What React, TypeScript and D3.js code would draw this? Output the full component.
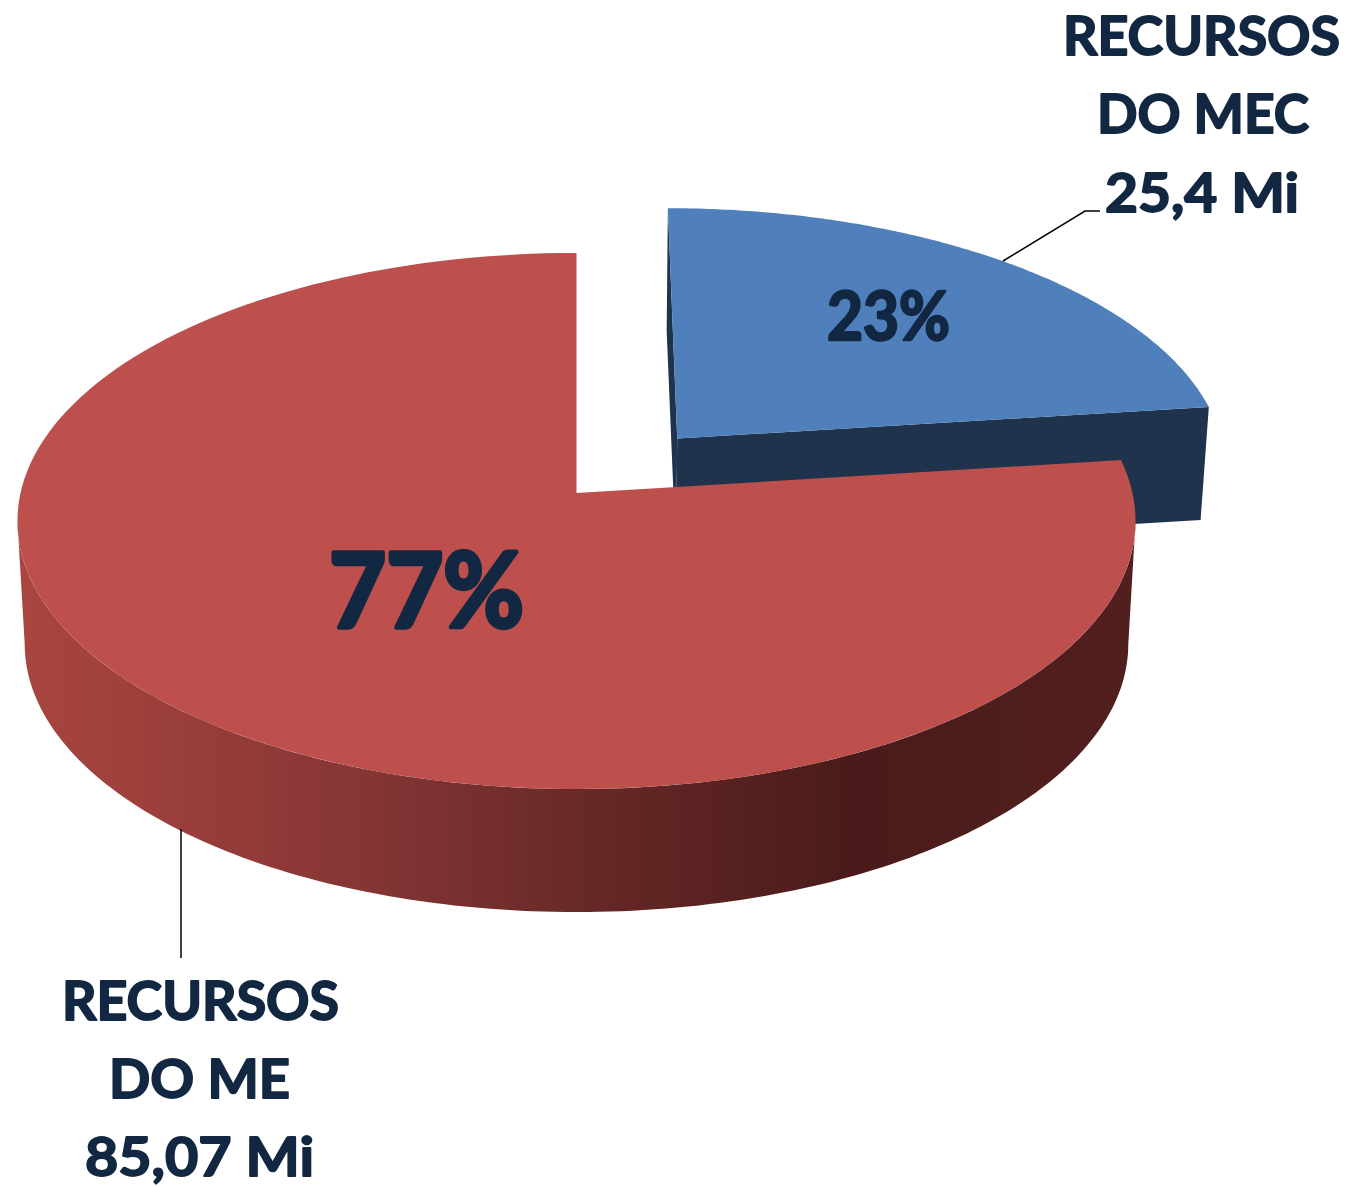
import React from "react";
import * as d3 from "d3";

const categories = ["RECURSOS DO MEC", "RECURSOS DO ME"];
const values = [25.4, 85.07];
const percentLabels = ["23%", "77%"];
const labelLines = [
  ["RECURSOS", "DO MEC", "25,4 Mi"],
  ["RECURSOS", "DO ME", "85,07 Mi"],
];

// Perspective projection of the unit-circle pie plane
const CX = 576.5;
const KX = 556;
const PA = -213.6;
const PB = 493;
const PC = 0.1045;
const LOWER_X = 0.987;
const EXPLODE = 0.28;
const DEPTH_RED = 123;
const DEPTH_BLUE = 113;

type Pt = [number, number];
const project = (u: number, v: number, depth = 0): Pt => {
  const w = 1 + PC * v;
  const sx = depth ? LOWER_X : 1;
  return [CX + (sx * KX * u) / w, (PA * v + PB) / w + depth];
};
const rim = (a: number, ou = 0, ov = 0, depth = 0): Pt =>
  project(ou + Math.sin(a), ov + Math.cos(a), depth);
const arcAngles = (a0: number, a1: number) => {
  const n = 160;
  return d3.range(n + 1).map((i) => a0 + ((a1 - a0) * i) / n);
};
const line = d3.line<Pt>().x((d) => d[0]).y((d) => d[1]);

const slices = d3.pie<number>().sort(null)(values);
const blue = slices[0];
const red = slices[1];
const mid = (blue.startAngle + blue.endAngle) / 2;
const ou = EXPLODE * Math.sin(mid);
const ov = EXPLODE * Math.cos(mid);

const blueAngles = arcAngles(blue.startAngle, blue.endAngle);
const blueTop = line([project(ou, ov), ...blueAngles.map((a) => rim(a, ou, ov))]) + "Z";
const blueFront = line([
  project(ou, ov),
  rim(blue.endAngle, ou, ov),
  rim(blue.endAngle, ou, ov, DEPTH_BLUE),
  project(ou, ov, DEPTH_BLUE),
]) + "Z";
const blueLeft = line([
  rim(blue.startAngle, ou, ov),
  rim(blue.startAngle, ou, ov, DEPTH_BLUE + 10),
  project(ou, ov, DEPTH_BLUE),
  project(ou, ov),
]) + "Z";

const redTop = line([project(0, 0), ...arcAngles(red.startAngle, red.endAngle).map((a) => rim(a))]) + "Z";
const wallStart = (96 * Math.PI) / 180;
const wallEnd = (264 * Math.PI) / 180;
const wallAngles = arcAngles(wallStart, wallEnd);
const redWall = line([
  ...wallAngles.map((a) => rim(a)),
  ...wallAngles.slice().reverse().map((a) => rim(a, 0, 0, DEPTH_RED)),
]) + "Z";

const wallStops = [
  { o: "0%", c: "#a8453f" },
  { o: "20%", c: "#933b39" },
  { o: "35%", c: "#7f3332" },
  { o: "52%", c: "#652826" },
  { o: "75%", c: "#4a1b1a" },
  { o: "100%", c: "#511f1e" },
];

const TEXT = "#122741";
const FONT = "Lato, 'Noto Sans', sans-serif";
const labelLayout = [
  [
    { x: 1063, w: 277, y: 55 },
    { x: 1097, w: 212, y: 133 },
    { x: 1105, w: 194, y: 212 },
  ],
  [
    { x: 62, w: 277, y: 1020 },
    { x: 109, w: 181, y: 1098 },
    { x: 85, w: 229, y: 1176 },
  ],
];

export default function App() {
  return (
    <svg
      width={1349}
      height={1187}
      viewBox="0 0 1349 1187"
      style={{ position: "absolute", left: 0, top: 0, background: "#fff" }}
    >
      <defs>
        <linearGradient id="wall" gradientUnits="userSpaceOnUse" x1={25} x2={1130} y1={0} y2={0}>
          {wallStops.map((s) => (
            <stop key={s.o} offset={s.o} stopColor={s.c} />
          ))}
        </linearGradient>
      </defs>

      <path d={blueLeft} fill="#1f334c" />
      <path d={blueFront} fill="#1f334c" />
      <path d={blueTop} fill="#4f80bc" />

      <path d={redWall} fill="url(#wall)" />
      <path d={redTop} fill="#bd4f4c" />

      <polyline points="1003,261 1085,211 1100,211" fill="none" stroke="#000" strokeWidth={1.5} />
      <line x1={181} y1={829} x2={181} y2={958} stroke="#000" strokeWidth={1.5} />

      <g fontFamily={FONT} fontWeight={700} fill={TEXT} stroke={TEXT} strokeLinejoin="round">
        {categories.map((cat, i) =>
          labelLines[i].map((t, j) => (
            <text
              key={cat + j}
              x={labelLayout[i][j].x}
              y={labelLayout[i][j].y}
              fontSize={54}
              strokeWidth={1.8}
              textLength={labelLayout[i][j].w}
              lengthAdjust="spacingAndGlyphs"
            >
              {t}
            </text>
          ))
        )}
        <text x={827} y={340} fontSize={66} strokeWidth={2.6} textLength={123} lengthAdjust="spacingAndGlyphs">
          {percentLabels[0]}
        </text>
        <text x={329} y={627} fontSize={104} strokeWidth={4.5} textLength={195} lengthAdjust="spacingAndGlyphs">
          {percentLabels[1]}
        </text>
      </g>
    </svg>
  );
}
